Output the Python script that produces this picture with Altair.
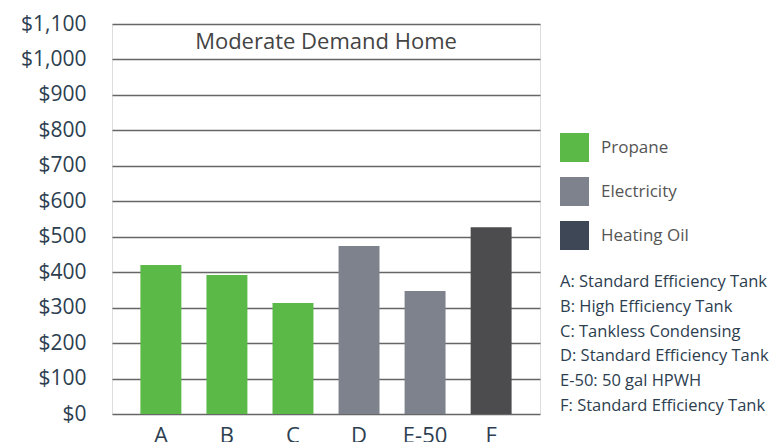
import altair as alt
import pandas as pd

categories = ["A", "B", "C", "D", "E-50", "F"]
costs = [420, 392, 313, 474, 347, 527]
fuels = ["Propane", "Propane", "Propane", "Electricity", "Electricity", "Heating Oil"]
fuel_order = ["Propane", "Electricity", "Heating Oil"]
fuel_colors = ["#5ab947", "#7d828d", "#3d4756"]
descriptions = [
    "A: Standard Efficiency Tank",
    "B: High Efficiency Tank",
    "C: Tankless Condensing",
    "D: Standard Efficiency Tank",
    "E-50: 50 gal HPWH",
    "F: Standard Efficiency Tank",
]
title_text = "Moderate Demand Home"

df = pd.DataFrame({"cat": categories, "cost": costs, "fuel": fuels})
desc_df = pd.DataFrame({"desc": descriptions})

FONT = "Open Sans"
NAVY = "#2c3e50"

bars = alt.Chart(df).mark_bar().encode(
    x=alt.X("cat:N", sort=categories, title=None,
            scale=alt.Scale(paddingInner=0.38, paddingOuter=0.43),
            axis=alt.Axis(labelAngle=0, labelFontSize=22, labelColor=NAVY,
                          labelFont=FONT, ticks=False, domain=False, labelPadding=11)),
    y=alt.Y("cost:Q", title=None,
            scale=alt.Scale(domain=[0, 1100]),
            axis=alt.Axis(values=list(range(0, 1101, 100)), format="$,.0f",
                          labelFontSize=21, labelColor=NAVY, labelFont=FONT,
                          ticks=False, domain=False, labelPadding=26,
                          grid=True, gridColor="#666666", gridWidth=1.3)),
    color=alt.condition(
        "datum.cat == 'F'",
        alt.value("#4c4c4e"),
        alt.Color("fuel:N", sort=fuel_order,
                  scale=alt.Scale(domain=fuel_order, range=fuel_colors),
                  legend=alt.Legend(title=None, orient="none", legendX=448, legendY=109,
                                    symbolType="square", symbolSize=841,
                                    symbolStrokeWidth=0, symbolOpacity=1,
                                    labelFontSize=17, labelFont=FONT,
                                    labelColor="#555555", labelOffset=12,
                                    rowPadding=15)),
    ),
)

desc = alt.Chart(desc_df).mark_text(align="left", baseline="middle", fontSize=16.5,
                                    font=FONT, color=NAVY).encode(
    x=alt.value(448),
    y=alt.Y("desc:N", sort=descriptions, axis=None,
            scale=alt.Scale(type="point", range=[258, 382], padding=0)),
    text="desc:N",
)

chart = alt.layer(bars, desc).resolve_scale(y="independent").properties(
    width=428, height=390,
    title=alt.TitleParams(title_text, offset=-41, fontSize=22, font=FONT,
                          fontWeight="normal", color="#444444", anchor="middle"),
    padding={"left": 12, "top": 5, "right": 0, "bottom": 0},
).configure_view(stroke="#666666", strokeWidth=1.3).configure(background="white")

chart.save("out.html", embed_options={"renderer": "svg", "actions": False})
